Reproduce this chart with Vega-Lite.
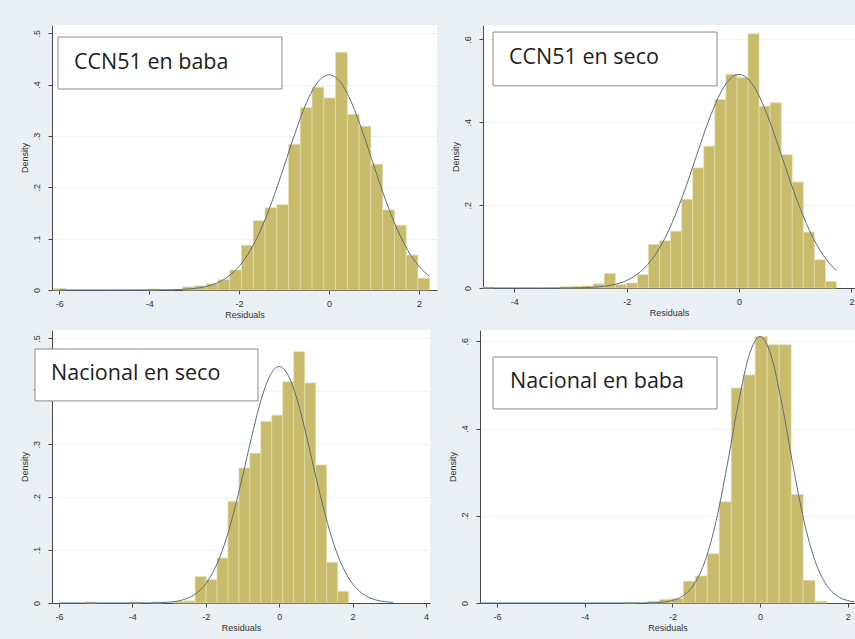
{
  "$schema": "https://vega.github.io/schema/vega-lite/v6.json",
  "background": "#E9EFF2",
  "padding": {"left": 20, "top": 25, "right": 0, "bottom": 8},
  "config": {
    "view": {"fill": "white", "stroke": null},
    "axis": {"domainColor": "#4a4a4a", "tickColor": "#4a4a4a", "labelColor": "#333333", "titleColor": "#333333", "labelFont": "Liberation Sans", "titleFont": "Liberation Sans", "labelFontSize": 9, "titleFontSize": 9, "titleFontWeight": "normal", "tickSize": 4, "domainWidth": 1},
    "axisY": {"labelAngle": -90, "labelPadding": 7, "titlePadding": 3, "grid": true, "gridColor": "#EDF2F4"},
    "axisX": {"grid": false, "labelPadding": 5, "titlePadding": 2}
  },
  "datasets": {
    "p1bars": [
      {"x0": -6.128, "x1": -5.866, "d": 0.003},
      {"x0": -4.037, "x1": -3.775, "d": 0.002},
      {"x0": -3.252, "x1": -2.991, "d": 0.006},
      {"x0": -2.991, "x1": -2.730, "d": 0.008},
      {"x0": -2.730, "x1": -2.468, "d": 0.012},
      {"x0": -2.468, "x1": -2.207, "d": 0.020},
      {"x0": -2.207, "x1": -1.946, "d": 0.039},
      {"x0": -1.946, "x1": -1.684, "d": 0.087},
      {"x0": -1.684, "x1": -1.423, "d": 0.135},
      {"x0": -1.423, "x1": -1.161, "d": 0.160},
      {"x0": -1.161, "x1": -0.900, "d": 0.166},
      {"x0": -0.900, "x1": -0.639, "d": 0.284},
      {"x0": -0.639, "x1": -0.377, "d": 0.355},
      {"x0": -0.377, "x1": -0.116, "d": 0.395},
      {"x0": -0.116, "x1": 0.146, "d": 0.374},
      {"x0": 0.146, "x1": 0.407, "d": 0.463},
      {"x0": 0.407, "x1": 0.669, "d": 0.342},
      {"x0": 0.669, "x1": 0.930, "d": 0.319},
      {"x0": 0.930, "x1": 1.191, "d": 0.245},
      {"x0": 1.191, "x1": 1.453, "d": 0.156},
      {"x0": 1.453, "x1": 1.714, "d": 0.126},
      {"x0": 1.714, "x1": 1.976, "d": 0.068},
      {"x0": 1.976, "x1": 2.237, "d": 0.023}
    ],
    "p1curve": [
      {"x": -6, "d": 0}, {"x": -5, "d": 0}, {"x": -4, "d": 0.0001}, {"x": -3.5, "d": 0.0005},
      {"x": -3, "d": 0.0029}, {"x": -2.75, "d": 0.0065}, {"x": -2.5, "d": 0.0133}, {"x": -2.25, "d": 0.0257},
      {"x": -2, "d": 0.0461}, {"x": -1.75, "d": 0.0774}, {"x": -1.5, "d": 0.121}, {"x": -1.25, "d": 0.177},
      {"x": -1, "d": 0.241}, {"x": -0.75, "d": 0.307}, {"x": -0.5, "d": 0.365}, {"x": -0.25, "d": 0.405},
      {"x": 0, "d": 0.419}, {"x": 0.25, "d": 0.405}, {"x": 0.5, "d": 0.365}, {"x": 0.75, "d": 0.307},
      {"x": 1, "d": 0.241}, {"x": 1.25, "d": 0.177}, {"x": 1.5, "d": 0.121}, {"x": 1.75, "d": 0.0774},
      {"x": 2, "d": 0.0461}, {"x": 2.237, "d": 0.0265}
    ],
    "p2bars": [
      {"x0": -4.561, "x1": -4.364, "d": 0.002},
      {"x0": -3.184, "x1": -2.987, "d": 0.003},
      {"x0": -2.987, "x1": -2.791, "d": 0.004},
      {"x0": -2.791, "x1": -2.594, "d": 0.005},
      {"x0": -2.594, "x1": -2.397, "d": 0.010},
      {"x0": -2.397, "x1": -2.201, "d": 0.035},
      {"x0": -2.201, "x1": -2.004, "d": 0.008},
      {"x0": -2.004, "x1": -1.807, "d": 0.012},
      {"x0": -1.807, "x1": -1.611, "d": 0.032},
      {"x0": -1.611, "x1": -1.414, "d": 0.105},
      {"x0": -1.414, "x1": -1.217, "d": 0.114},
      {"x0": -1.217, "x1": -1.021, "d": 0.137},
      {"x0": -1.021, "x1": -0.824, "d": 0.214},
      {"x0": -0.824, "x1": -0.627, "d": 0.290},
      {"x0": -0.627, "x1": -0.430, "d": 0.342},
      {"x0": -0.430, "x1": -0.234, "d": 0.455},
      {"x0": -0.234, "x1": -0.037, "d": 0.516},
      {"x0": -0.037, "x1": 0.160, "d": 0.508},
      {"x0": 0.160, "x1": 0.356, "d": 0.614},
      {"x0": 0.356, "x1": 0.553, "d": 0.439},
      {"x0": 0.553, "x1": 0.750, "d": 0.447},
      {"x0": 0.750, "x1": 0.946, "d": 0.322},
      {"x0": 0.946, "x1": 1.143, "d": 0.256},
      {"x0": 1.143, "x1": 1.340, "d": 0.135},
      {"x0": 1.340, "x1": 1.536, "d": 0.068},
      {"x0": 1.536, "x1": 1.733, "d": 0.016}
    ],
    "p2curve": [
      {"x": -4.56, "d": 0}, {"x": -4, "d": 0}, {"x": -3.5, "d": 0}, {"x": -3, "d": 0.0003},
      {"x": -2.75, "d": 0.0009}, {"x": -2.5, "d": 0.0028}, {"x": -2.25, "d": 0.0075}, {"x": -2, "d": 0.0182},
      {"x": -1.75, "d": 0.0398}, {"x": -1.5, "d": 0.0785}, {"x": -1.25, "d": 0.1396}, {"x": -1, "d": 0.2235},
      {"x": -0.75, "d": 0.3223}, {"x": -0.5, "d": 0.4186}, {"x": -0.25, "d": 0.4897}, {"x": 0, "d": 0.516},
      {"x": 0.25, "d": 0.4897}, {"x": 0.5, "d": 0.4186}, {"x": 0.75, "d": 0.3223}, {"x": 1, "d": 0.2235},
      {"x": 1.25, "d": 0.1396}, {"x": 1.5, "d": 0.0785}, {"x": 1.733, "d": 0.0418}
    ],
    "p3bars": [
      {"x0": -5.278, "x1": -4.979, "d": 0.002},
      {"x0": -4.083, "x1": -3.784, "d": 0.002},
      {"x0": -3.486, "x1": -3.187, "d": 0.002},
      {"x0": -2.888, "x1": -2.590, "d": 0.003},
      {"x0": -2.590, "x1": -2.291, "d": 0.004},
      {"x0": -2.291, "x1": -1.992, "d": 0.050},
      {"x0": -1.992, "x1": -1.694, "d": 0.044},
      {"x0": -1.694, "x1": -1.395, "d": 0.085},
      {"x0": -1.395, "x1": -1.096, "d": 0.192},
      {"x0": -1.096, "x1": -0.798, "d": 0.255},
      {"x0": -0.798, "x1": -0.499, "d": 0.283},
      {"x0": -0.499, "x1": -0.200, "d": 0.343},
      {"x0": -0.200, "x1": 0.098, "d": 0.355},
      {"x0": 0.098, "x1": 0.397, "d": 0.418},
      {"x0": 0.397, "x1": 0.696, "d": 0.475},
      {"x0": 0.696, "x1": 0.995, "d": 0.416},
      {"x0": 0.995, "x1": 1.293, "d": 0.261},
      {"x0": 1.293, "x1": 1.592, "d": 0.077},
      {"x0": 1.592, "x1": 1.891, "d": 0.022}
    ],
    "p3curve": [
      {"x": -6, "d": 0}, {"x": -5, "d": 0}, {"x": -4, "d": 0}, {"x": -3.5, "d": 0.0002},
      {"x": -3, "d": 0.0016}, {"x": -2.75, "d": 0.0039}, {"x": -2.5, "d": 0.0089}, {"x": -2.25, "d": 0.0187},
      {"x": -2, "d": 0.0364}, {"x": -1.75, "d": 0.0655}, {"x": -1.5, "d": 0.109}, {"x": -1.25, "d": 0.168},
      {"x": -1, "d": 0.2388}, {"x": -0.75, "d": 0.3141}, {"x": -0.5, "d": 0.3821}, {"x": -0.25, "d": 0.4298},
      {"x": 0, "d": 0.447}, {"x": 0.25, "d": 0.4298}, {"x": 0.5, "d": 0.3821}, {"x": 0.75, "d": 0.3141},
      {"x": 1, "d": 0.2388}, {"x": 1.25, "d": 0.168}, {"x": 1.5, "d": 0.109}, {"x": 1.75, "d": 0.0655},
      {"x": 2, "d": 0.0364}, {"x": 2.25, "d": 0.0187}, {"x": 2.5, "d": 0.0089}, {"x": 2.75, "d": 0.0039},
      {"x": 3, "d": 0.0016}, {"x": 3.1, "d": 0.0011}
    ],
    "p4bars": [
      {"x0": -3.114, "x1": -2.841, "d": 0.002},
      {"x0": -2.568, "x1": -2.295, "d": 0.004},
      {"x0": -2.295, "x1": -2.022, "d": 0.008},
      {"x0": -2.022, "x1": -1.749, "d": 0.010},
      {"x0": -1.749, "x1": -1.476, "d": 0.050},
      {"x0": -1.476, "x1": -1.203, "d": 0.062},
      {"x0": -1.203, "x1": -0.930, "d": 0.113},
      {"x0": -0.930, "x1": -0.656, "d": 0.232},
      {"x0": -0.656, "x1": -0.383, "d": 0.493},
      {"x0": -0.383, "x1": -0.110, "d": 0.523},
      {"x0": -0.110, "x1": 0.163, "d": 0.611},
      {"x0": 0.163, "x1": 0.436, "d": 0.592},
      {"x0": 0.436, "x1": 0.709, "d": 0.592},
      {"x0": 0.709, "x1": 0.982, "d": 0.249},
      {"x0": 0.982, "x1": 1.255, "d": 0.052},
      {"x0": 1.255, "x1": 1.528, "d": 0.004}
    ],
    "p4curve": [
      {"x": -6.39, "d": 0}, {"x": -4, "d": 0}, {"x": -3, "d": 0}, {"x": -2.75, "d": 0.0001},
      {"x": -2.5, "d": 0.0004}, {"x": -2.25, "d": 0.0016}, {"x": -2, "d": 0.0056}, {"x": -1.75, "d": 0.0169},
      {"x": -1.5, "d": 0.0437}, {"x": -1.25, "d": 0.0978}, {"x": -1, "d": 0.1892}, {"x": -0.75, "d": 0.3159},
      {"x": -0.5, "d": 0.4557}, {"x": -0.25, "d": 0.5678}, {"x": 0, "d": 0.611}, {"x": 0.25, "d": 0.5678},
      {"x": 0.5, "d": 0.4557}, {"x": 0.75, "d": 0.3159}, {"x": 1, "d": 0.1892}, {"x": 1.25, "d": 0.0978},
      {"x": 1.5, "d": 0.0437}, {"x": 1.75, "d": 0.0169}, {"x": 2, "d": 0.0056}, {"x": 2.15, "d": 0.0027}
    ]
  },
  "spacing": 11,
  "vconcat": [
    {
      "spacing": 46,
      "bounds": "flush",
      "hconcat": [
        {
          "width": 385, "height": 265,
          "layer": [
            {
              "data": {"name": "p1bars"},
              "mark": {"type": "rect", "fill": "#C8BB6C", "stroke": "#E4DDAA", "strokeWidth": 0.7},
              "encoding": {
                "x": {"field": "x0", "type": "quantitative", "scale": {"domain": [-6.16, 2.4], "nice": false, "zero": false}, "axis": {"title": "Residuals", "values": [-6, -4, -2, 0, 2], "labelExpr": "'' + datum.value"}},
                "x2": {"field": "x1"},
                "y": {"field": "d", "type": "quantitative", "scale": {"domain": [0, 0.516], "nice": false}, "axis": {"title": "Density", "values": [0, 0.1, 0.2, 0.3, 0.4, 0.5], "labelExpr": "datum.value == 0 ? '0' : replace(format(datum.value, '.1f'), '0.', '.')"}},
                "y2": {"datum": 0}
              }
            },
            {
              "data": {"name": "p1curve"},
              "mark": {"type": "line", "color": "#5B6F82", "strokeWidth": 1, "interpolate": "monotone"},
              "encoding": {"x": {"field": "x", "type": "quantitative"}, "y": {"field": "d", "type": "quantitative"}}
            },
            {
              "data": {"values": [{"label": "CCN51 en baba"}]},
              "mark": {"type": "rect", "fill": "white", "stroke": "#8C8C8C", "strokeWidth": 1},
              "encoding": {"x": {"datum": -6.027}, "x2": {"datum": -1.047}, "y": {"datum": 0.4926}, "y2": {"datum": 0.3914}}
            },
            {
              "data": {"values": [{"label": "CCN51 en baba"}]},
              "mark": {"type": "text", "align": "left", "baseline": "alphabetic", "font": "Open Sans", "fontSize": 21.5, "color": "#1e1e1e"},
              "encoding": {"x": {"datum": -5.672}, "y": {"datum": 0.4303}, "text": {"field": "label"}}
            }
          ]
        },
        {
          "width": 372, "height": 263,
          "layer": [
            {
              "data": {"name": "p2bars"},
              "mark": {"type": "rect", "fill": "#C8BB6C", "stroke": "#E4DDAA", "strokeWidth": 0.7},
              "encoding": {
                "x": {"field": "x0", "type": "quantitative", "scale": {"domain": [-4.556, 2.063], "nice": false, "zero": false}, "axis": {"title": "Residuals", "values": [-4, -2, 0, 2], "labelExpr": "'' + datum.value"}},
                "x2": {"field": "x1"},
                "y": {"field": "d", "type": "quantitative", "scale": {"domain": [0, 0.635], "nice": false}, "axis": {"title": "Density", "values": [0, 0.2, 0.4, 0.6], "labelExpr": "datum.value == 0 ? '0' : replace(format(datum.value, '.1f'), '0.', '.')"}},
                "y2": {"datum": 0}
              }
            },
            {
              "data": {"name": "p2curve"},
              "mark": {"type": "line", "color": "#5B6F82", "strokeWidth": 1, "interpolate": "monotone"},
              "encoding": {"x": {"field": "x", "type": "quantitative"}, "y": {"field": "d", "type": "quantitative"}}
            },
            {
              "data": {"values": [{"label": "CCN51 en seco"}]},
              "mark": {"type": "rect", "fill": "white", "stroke": "#8C8C8C", "strokeWidth": 1},
              "encoding": {"x": {"datum": -4.378}, "x2": {"datum": -0.392}, "y": {"datum": 0.618}, "y2": {"datum": 0.488}}
            },
            {
              "data": {"values": [{"label": "CCN51 en seco"}]},
              "mark": {"type": "text", "align": "left", "baseline": "alphabetic", "font": "Open Sans", "fontSize": 21.5, "color": "#1e1e1e"},
              "encoding": {"x": {"datum": -4.093}, "y": {"datum": 0.541}, "text": {"field": "label"}}
            }
          ]
        }
      ]
    },
    {
      "spacing": 50,
      "bounds": "flush",
      "hconcat": [
        {
          "width": 378, "height": 273,
          "layer": [
            {
              "data": {"name": "p3bars"},
              "mark": {"type": "rect", "fill": "#C8BB6C", "stroke": "#E4DDAA", "strokeWidth": 0.7},
              "encoding": {
                "x": {"field": "x0", "type": "quantitative", "scale": {"domain": [-6.19, 4.11], "nice": false, "zero": false}, "axis": {"title": "Residuals", "values": [-6, -4, -2, 0, 2, 4], "labelExpr": "'' + datum.value"}},
                "x2": {"field": "x1"},
                "y": {"field": "d", "type": "quantitative", "scale": {"domain": [0, 0.516], "nice": false}, "axis": {"title": "Density", "values": [0, 0.1, 0.2, 0.3, 0.4, 0.5], "labelExpr": "datum.value == 0 ? '0' : replace(format(datum.value, '.1f'), '0.', '.')"}},
                "y2": {"datum": 0}
              }
            },
            {
              "data": {"name": "p3curve"},
              "mark": {"type": "line", "color": "#5B6F82", "strokeWidth": 1, "interpolate": "monotone"},
              "encoding": {"x": {"field": "x", "type": "quantitative"}, "y": {"field": "d", "type": "quantitative"}}
            },
            {
              "data": {"values": [{"label": "Nacional en seco"}]},
              "mark": {"type": "rect", "fill": "white", "stroke": "#8C8C8C", "strokeWidth": 1},
              "encoding": {"x": {"datum": -6.653}, "x2": {"datum": -0.577}, "y": {"datum": 0.480}, "y2": {"datum": 0.382}}
            },
            {
              "data": {"values": [{"label": "Nacional en seco"}]},
              "mark": {"type": "text", "align": "left", "baseline": "alphabetic", "font": "Open Sans", "fontSize": 21.5, "color": "#1e1e1e"},
              "encoding": {"x": {"datum": -6.217}, "y": {"datum": 0.4215}, "text": {"field": "label"}}
            }
          ]
        },
        {
          "width": 375, "height": 273,
          "layer": [
            {
              "data": {"name": "p4bars"},
              "mark": {"type": "rect", "fill": "#C8BB6C", "stroke": "#E4DDAA", "strokeWidth": 0.7},
              "encoding": {
                "x": {"field": "x0", "type": "quantitative", "scale": {"domain": [-6.39, 2.166], "nice": false, "zero": false}, "axis": {"title": "Residuals", "values": [-6, -4, -2, 0, 2], "labelExpr": "'' + datum.value"}},
                "x2": {"field": "x1"},
                "y": {"field": "d", "type": "quantitative", "scale": {"domain": [0, 0.626], "nice": false}, "axis": {"title": "Density", "values": [0, 0.2, 0.4, 0.6], "labelExpr": "datum.value == 0 ? '0' : replace(format(datum.value, '.1f'), '0.', '.')"}},
                "y2": {"datum": 0}
              }
            },
            {
              "data": {"name": "p4curve"},
              "mark": {"type": "line", "color": "#5B6F82", "strokeWidth": 1, "interpolate": "monotone"},
              "encoding": {"x": {"field": "x", "type": "quantitative"}, "y": {"field": "d", "type": "quantitative"}}
            },
            {
              "data": {"values": [{"label": "Nacional en baba"}]},
              "mark": {"type": "rect", "fill": "white", "stroke": "#8C8C8C", "strokeWidth": 1},
              "encoding": {"x": {"datum": -6.093}, "x2": {"datum": -0.983}, "y": {"datum": 0.564}, "y2": {"datum": 0.445}}
            },
            {
              "data": {"values": [{"label": "Nacional en baba"}]},
              "mark": {"type": "text", "align": "left", "baseline": "alphabetic", "font": "Open Sans", "fontSize": 21.5, "color": "#1e1e1e"},
              "encoding": {"x": {"datum": -5.706}, "y": {"datum": 0.493}, "text": {"field": "label"}}
            }
          ]
        }
      ]
    }
  ]
}
